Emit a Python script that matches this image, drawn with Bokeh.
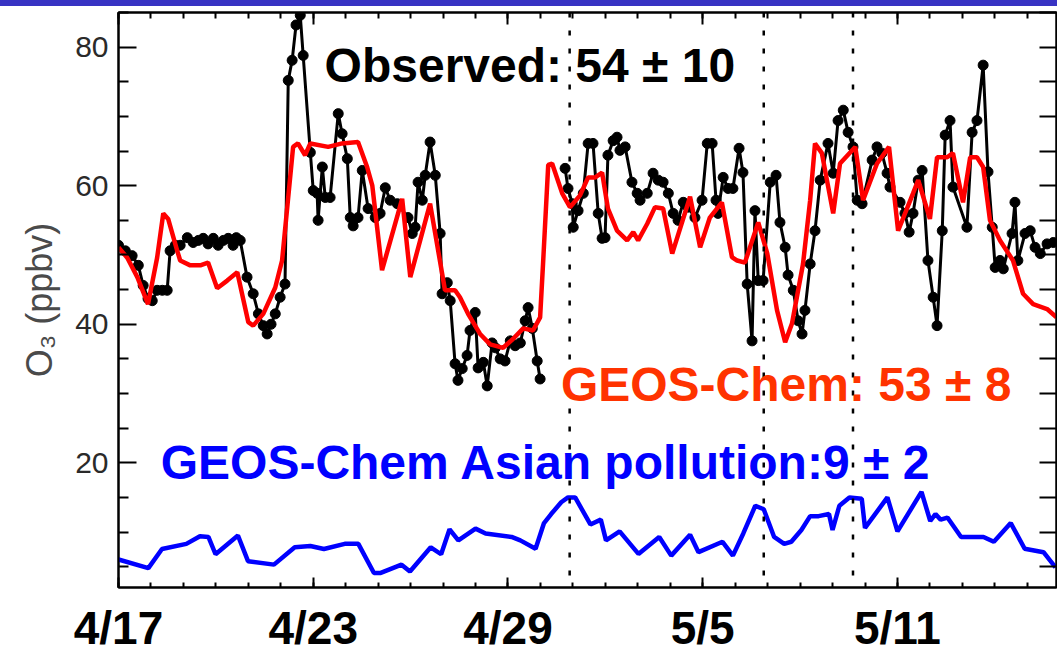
from bokeh.plotting import figure
from bokeh.layouts import column
from bokeh.models import Range1d, LinearAxis, FixedTicker, Label, Span, Div
from bokeh.embed import file_html
from bokeh.resources import INLINE

NaN = float("nan")

# Observed O3 (days since 4/17 00:00, ppbv)
obs_day = [0.00, 0.21, 0.42, 0.61, 0.76, 0.91, 1.04, 1.19, 1.35, 1.50, 1.59, 1.75, 1.90, 2.12, 2.30, 2.46,
           2.61, 2.76, 2.92, 3.07, 3.23, 3.38, 3.53, 3.63, 3.75, 3.96, 4.15, 4.31, 4.46, 4.58, 4.70, 4.83,
           4.98, 5.13, 5.23, 5.35, 5.47, 5.60, 5.69, 5.91, 6.00, 6.12, 6.15, 6.28, 6.37, 6.52, 6.77, 6.89,
           7.05, 7.14, 7.23, 7.38, 7.51, 7.69, 7.91, 8.06, 8.22, 8.37, 8.59, 8.92, 9.05, 9.14, 9.23, 9.36,
           9.45, 9.60, 9.76, 9.91, 9.97, 10.13, 10.22, 10.37, 10.46, 10.59, 10.74, 10.83, 10.99, 11.08,
           11.24, 11.36, 11.51, 11.61, 11.76, 11.91, 12.07, 12.22, 12.38, 12.53, 12.62, 12.75, 12.90, 12.99,
           13.40,
           13.76, 13.85, 13.98, 14.01, 14.16, 14.32, 14.47, 14.62, 14.78, 14.90, 14.99, 15.08, 15.24, 15.36,
           15.45, 15.61, 15.82, 15.98, 16.07, 16.29, 16.47, 16.63, 16.78, 16.94, 17.09, 17.24, 17.40, 17.55,
           17.76, 17.98, 18.14, 18.29, 18.41, 18.47, 18.63, 18.78, 18.93, 19.12, 19.24, 19.37, 19.52, 19.61,
           19.71, 19.86, 20.08, 20.26, 20.38, 20.54, 20.63, 20.79, 20.94, 21.06, 21.15, 21.31, 21.46, 21.62,
           21.86, 22.02, 22.17, 22.33, 22.48, 22.63, 22.76, 22.91, 23.22, 23.37, 23.52, 23.68, 23.77, 24.08,
           24.23, 24.36, 24.48, 24.64, 24.76, 24.94, 25.10, 25.22, 25.38, 25.47, 25.62, 25.71, 26.14, 26.30,
           26.45, 26.64, 26.79, 26.92, 27.01, 27.16, 27.26, 27.53, 27.62, 27.71, 27.93, 28.09, 28.24, 28.40,
           28.61, 28.80]
obs_o3 = [51.4, 50.6, 49.9, 48.5, 45.6, 43.7, 43.4, 44.9, 44.9, 44.9, 50.6, 51.4, 51.4, 52.5, 51.8, 52.1,
          52.4, 51.6, 52.4, 51.4, 52.1, 52.4, 51.4, 52.5, 52.1, 46.8, 44.4, 41.5, 39.8, 38.6, 40.0, 41.5,
          43.9, 45.8, 75.2, 78.1, 83.2, 84.6, 78.8, 64.8, 59.3, 58.9, 55.0, 62.7, 58.3, 58.3, 70.4, 67.5,
          63.9, 55.4, 54.2, 55.4, 62.2, 56.7, 55.4, 56.0, 59.7, 57.9, 57.4, 55.4, 53.1, 54.0, 60.5, 57.9,
          61.5, 66.3, 61.5, 53.1, 44.4, 46.0, 43.4, 34.3, 31.9, 33.6, 35.5, 39.1, 41.7, 33.7,
          34.5, 31.1, 37.3, 36.6, 35.0, 34.7, 37.6, 36.9, 37.3, 40.5, 42.4, 39.4, 34.7, 32.1,
          NaN,
          62.5, 59.6, 57.4, 54.0, 56.4, 58.9, 66.1, 66.1, 56.0, 52.4, 52.5, 64.4, 66.5, 67.0,
          65.1, 65.6, 60.5, 58.9, 57.9, 58.9, 61.8, 60.8, 60.5, 58.9, 56.0, 55.0, 57.6, 56.9,
          55.4, 57.9, 66.1, 66.1, 57.9, 56.0, 61.2, 59.6, 59.6, 65.4, 61.9, 45.8, 37.6, 56.4,
          46.3, 46.3, 60.5, 61.5, 54.7, 51.1, 47.1, 44.9, 40.5, 38.6, 42.0, 48.7, 53.5, 60.8,
          66.1, 61.8, 69.4, 70.9, 67.7, 65.6, 57.9, 57.4, 63.7, 65.6, 64.7, 61.8, 59.8, 57.6,
          56.0, 53.3, 56.0, 60.8, 62.2, 49.2, 43.9, 39.8, 53.5, 67.3, 69.4, 59.8, 54.0, 67.7,
          69.4, 77.4, 62.0, 54.0, 48.2, 49.2, 48.0, 53.1, 57.6, 49.2, 53.1, 53.5, 51.1, 50.2,
          51.6, 51.8]

# GEOS-Chem O3
gc_day = [0.00, 0.27, 0.58, 0.91, 1.19, 1.38, 1.53, 1.81, 1.90, 2.21, 2.52, 2.76, 3.04, 3.35, 3.66, 4.00,
          4.15, 4.46, 4.83, 5.04, 5.38, 5.53, 5.75, 5.91, 6.46, 6.89, 7.38, 7.66, 7.82, 8.12, 8.74, 8.99,
          9.60, 10.06, 10.37, 10.52, 10.77, 11.14, 11.45, 11.85, 12.16, 12.47, 12.77, 12.99, 13.08, 13.24,
          13.36, 13.67, 13.91, 14.22, 14.47, 14.69, 14.90, 15.08, 15.36, 15.67, 15.86, 16.01, 16.29, 16.53,
          16.78, 17.06, 17.61, 17.92, 18.22, 18.59, 18.90, 19.06, 19.30, 19.71, 19.99, 20.29, 20.54, 20.75,
          21.09, 21.31, 21.46, 21.67, 22.02, 22.23, 22.70, 22.94, 23.37, 23.74, 24.02, 24.48, 24.64, 25.00,
          25.22, 25.53, 25.71, 26.02, 26.24, 26.45, 26.64, 26.85, 27.16, 27.56, 27.87, 28.18, 28.61, 28.90]
gc_o3 = [51.1, 49.6, 46.8, 42.9, 49.6, 56.0, 55.2, 50.6, 49.2, 48.5, 48.5, 48.9, 45.2, 46.3, 47.5, 40.3,
         39.8, 41.5, 45.3, 49.2, 65.6, 66.1, 64.4, 66.1, 65.6, 66.1, 66.3, 62.7, 60.0, 47.8, 58.1, 46.8,
         57.4, 44.9, 44.9, 43.9, 41.5, 38.6, 37.1, 36.6, 37.9, 39.4, 39.1, 41.0, 48.7, 63.0,
         63.2, 58.9, 56.9, 58.6, 61.2, 61.2, 61.9, 56.7, 53.5, 52.1, 53.3, 52.1, 54.5, 56.9,
         56.7, 50.2, 58.4, 51.1, 55.4, 57.6, 49.7, 49.2, 48.9, 54.7, 50.2, 42.0, 37.4, 40.1,
         48.7, 57.9, 66.1, 64.7, 56.0, 63.2, 65.6, 57.9, 63.2, 65.6, 53.5, 58.9, 60.8, 55.2,
         64.1, 64.1, 64.7, 57.6, 64.1, 64.1, 62.7, 55.0, 52.1, 49.2, 44.4, 42.9, 42.2, 41.0]

# GEOS-Chem Asian pollution O3
asia_day = [0.00, 0.92, 1.34, 2.09, 2.51, 2.77, 2.99, 3.68, 3.99, 4.79, 5.43, 5.91, 6.33, 6.97, 7.39, 7.87,
            8.08, 8.72, 8.98, 9.62, 9.94, 10.20, 10.47, 11.00, 11.31, 12.11, 12.38, 12.85, 13.11, 13.33,
            13.64, 13.85, 14.07, 14.54, 14.86, 15.02, 15.44, 16.02, 16.66, 17.03, 17.61, 17.87, 18.61, 18.93,
            19.25, 19.62, 19.88, 20.20, 20.51, 20.73, 21.04, 21.31, 21.57, 21.89, 22.00, 22.21, 22.52, 22.90,
            23.00, 23.69, 24.00, 24.74, 25.01, 25.17, 25.33, 25.54, 25.96, 26.65, 26.97, 27.49, 27.92, 28.50,
            28.87]
asia_o3 = [6.05, 4.8, 7.55, 8.3, 9.4, 9.3, 6.8, 9.5, 5.8, 5.3, 7.8, 8.0, 7.55, 8.3, 8.3, 4.1,
           4.1, 5.3, 4.3, 7.8, 6.8, 10.4, 8.8, 10.5, 9.8, 9.3, 8.8, 7.6, 11.3, 12.6,
           14.3, 15.0, 15.0, 11.1, 11.8, 8.8, 10.1, 6.85, 9.3, 6.6, 9.6, 7.1, 8.6, 6.6,
           9.8, 13.8, 13.3, 9.3, 8.3, 8.6, 10.3, 12.3, 12.3, 12.6, 10.3, 13.8, 15.0, 14.8,
           10.6, 15.0, 10.1, 15.8, 11.6, 12.6, 11.8, 12.1, 9.3, 9.3, 8.6, 11.3, 7.6, 7.1,
           4.9]

event_days = [13.90, 19.88, 22.63]

x_tick_days = [0, 6, 12, 18, 24]
x_tick_labels = ["4/17", "4/23", "4/29", "5/5", "5/11"]
x_minor_days = list(range(0, 29))
y_ticks = [20, 40, 60, 80]
y_minor = [5, 10, 15, 25, 30, 35, 45, 50, 55, 65, 70, 75, 85]
y_right_ticks = [5, 10, 15, 20, 25, 30, 35, 40, 45, 50, 55, 60, 65, 70, 75, 80, 85]

header = Div(text="", width=1057, height=6, margin=(0, 0, 0, 0),
             styles={"background-color": "#3833c3"})

p = figure(width=1057, height=650, x_range=Range1d(0, 28.9), y_range=Range1d(2, 85),
           x_axis_type=None, y_axis_type=None, output_backend="svg", toolbar_location=None,
           min_border_left=118, min_border_right=1, min_border_top=6, min_border_bottom=10,
           margin=(0, 0, 0, 0))
p.grid.visible = False
p.outline_line_color = "black"
p.outline_line_width = 2
p.background_fill_color = "white"
p.border_fill_color = "white"

FONT = "Liberation Sans"

xb = LinearAxis(ticker=FixedTicker(ticks=x_tick_days, minor_ticks=x_minor_days),
                major_label_overrides={d: l for d, l in zip(x_tick_days, x_tick_labels)})
xb.axis_line_width = 2
xb.major_tick_in = 10
xb.major_tick_out = 0
xb.minor_tick_in = 5
xb.minor_tick_out = 0
xb.major_tick_line_width = 2
xb.minor_tick_line_width = 2
xb.major_label_text_font = FONT
xb.major_label_text_font_style = "bold"
xb.major_label_text_font_size = "46px"
xb.major_label_text_color = "black"
xb.major_label_standoff = 14
p.add_layout(xb, "below")

xt = LinearAxis(ticker=FixedTicker(ticks=x_tick_days, minor_ticks=x_minor_days))
xt.axis_line_width = 2
xt.major_tick_in = 12
xt.major_tick_out = 0
xt.minor_tick_in = 6
xt.minor_tick_out = 0
xt.major_tick_line_width = 2
xt.minor_tick_line_width = 2
xt.major_label_text_font_size = "1px"
xt.major_label_text_color = None
xt.major_label_standoff = 0
p.add_layout(xt, "above")

yl = LinearAxis(ticker=FixedTicker(ticks=y_ticks, minor_ticks=y_minor), axis_label="O₃ (ppbv)")
yl.axis_line_width = 2
yl.major_tick_in = 18
yl.major_tick_out = 0
yl.minor_tick_in = 10
yl.minor_tick_out = 0
yl.major_tick_line_width = 2
yl.minor_tick_line_width = 2
yl.major_label_text_font = FONT
yl.major_label_text_font_size = "30px"
yl.major_label_text_color = "#2a2a2a"
yl.major_label_standoff = 10
yl.axis_label_text_font = FONT
yl.axis_label_text_font_style = "normal"
yl.axis_label_text_font_size = "36px"
yl.axis_label_text_color = "#4a4a4a"
yl.axis_label_standoff = 12
p.add_layout(yl, "left")

yr = LinearAxis(ticker=FixedTicker(ticks=y_right_ticks, minor_ticks=[]))
yr.axis_line_width = 2
yr.major_tick_in = 17
yr.major_tick_out = 0
yr.major_tick_line_width = 2
yr.major_label_text_font_size = "1px"
yr.major_label_text_color = None
yr.major_label_standoff = 0
p.add_layout(yr, "right")

for d in event_days:
    p.add_layout(Span(location=d, dimension="height", line_color="black",
                      line_width=2.5, line_dash="5 13"))

p.line(obs_day, obs_o3, line_color="black", line_width=3)
p.scatter(obs_day, obs_o3, size=10, fill_color="black", line_color="black")
p.line(gc_day, gc_o3, line_color="#ff0000", line_width=4.5)
p.line(asia_day, asia_o3, line_color="#0000ff", line_width=4.5)

p.add_layout(Label(x=6.35, y=77.3, text="Observed: 54 ± 10", text_font=FONT,
                   text_font_style="bold", text_font_size="48px", text_color="black",
                   text_baseline="alphabetic"))
p.add_layout(Label(x=13.63, y=31.3, text="GEOS-Chem: 53 ± 8", text_font=FONT,
                   text_font_style="bold", text_font_size="48px", text_color="#ff3300",
                   text_baseline="alphabetic"))
p.add_layout(Label(x=1.3, y=20.1, text="GEOS-Chem Asian pollution:9 ± 2", text_font=FONT,
                   text_font_style="bold", text_font_size="48px", text_color="#0000ff",
                   text_baseline="alphabetic"))

layout = column(header, p, spacing=0, margin=(0, 0, 0, 0))
open("out.html", "w").write(file_html(layout, INLINE))
